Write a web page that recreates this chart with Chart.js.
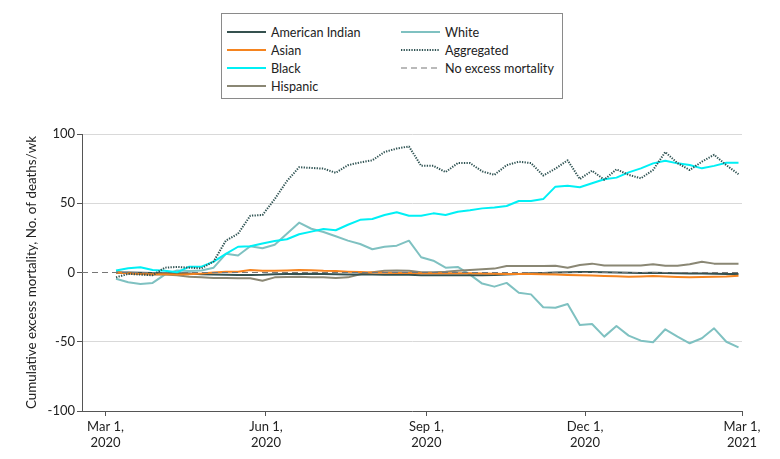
<!DOCTYPE html>
<html><head><meta charset="utf-8">
<script src="https://cdn.jsdelivr.net/npm/chart.js@4.4.1/dist/chart.umd.min.js"></script>
<style>
html,body{margin:0;padding:0;background:#fff;}
#wrap{position:relative;width:780px;height:459px;overflow:hidden;background:#fff;}
#c{position:absolute;left:0;top:0;}
#legend{position:absolute;left:221px;top:13px;width:342px;height:86px;box-sizing:border-box;border:1px solid #8a8a8a;background:#fff;}
.item{position:absolute;height:18px;display:flex;align-items:center;font-size:12.6px;color:#222;white-space:nowrap;}
.item svg{margin-right:5px;display:block;}
</style></head>
<body><div id="wrap"><canvas id="c" width="780" height="459"></canvas><div id="legend"></div></div>
<script>
const FONT = 'Lato, Roboto, "Liberation Sans", sans-serif';

// Week-ending dates (categories)
const weekDates = ["2020-03-07","2020-03-14","2020-03-21","2020-03-28","2020-04-04","2020-04-11","2020-04-18","2020-04-25",
"2020-05-02","2020-05-09","2020-05-16","2020-05-23","2020-05-30","2020-06-06","2020-06-13","2020-06-20","2020-06-27",
"2020-07-04","2020-07-11","2020-07-18","2020-07-25","2020-08-01","2020-08-08","2020-08-15","2020-08-22","2020-08-29",
"2020-09-05","2020-09-12","2020-09-19","2020-09-26","2020-10-03","2020-10-10","2020-10-17","2020-10-24","2020-10-31",
"2020-11-07","2020-11-14","2020-11-21","2020-11-28","2020-12-05","2020-12-12","2020-12-19","2020-12-26",
"2021-01-02","2021-01-09","2021-01-16","2021-01-23","2021-01-30","2021-02-06","2021-02-13","2021-02-20","2021-02-27"];

// Series values (cumulative excess deaths/wk)
const americanIndian = [0,0,-0.2,-0.3,-0.5,-0.6,-0.8,-1.2,-1.4,-1.6,-1.8,-1.8,-1.6,-1.2,-1,-1,-0.9,-1,-1.2,-1.4,-1.5,-1.5,-1.6,-1.6,-1.7,-1.9,-2,-2,-2,-2,-1.9,-1.8,-1.5,-1,-0.6,-0.3,0,0.2,0.4,0.3,0.2,0,-0.2,-0.3,-0.2,-0.3,-0.5,-0.7,-0.8,-0.9,-1,-1.1];
const asian = [0,-0.5,-1,-1.3,-1.3,-1.5,-1.2,-0.8,0,0.5,0.6,1.8,1.3,1.2,1.5,1.8,1.6,1.2,1,0.6,0.3,0,-0.2,-0.3,-0.3,-0.5,-0.5,-0.5,-0.6,-0.6,-0.8,-0.9,-1,-1,-1.1,-1.3,-1.5,-1.8,-2,-2.2,-2.5,-2.7,-3,-2.8,-2.5,-2.8,-3.2,-3.5,-3.2,-3,-2.8,-2.3];
const black = [1.5,3,3.8,1.8,1.3,0.1,4.2,4.2,7.8,13.4,18.6,19,21,22.7,24,27.6,29.5,31.4,30.5,34.5,38,38.6,41.5,43.5,41,41,42.7,41.5,43.9,45,46.3,47,48,51.6,51.6,53,62,62.7,61.5,64.4,67.3,68.5,72.3,75.2,78.8,80.7,78.8,77.6,75.2,77,79.3,79.3];
const hispanic = [0,-0.5,-1,-1.5,-1.5,-2,-3,-3.5,-4,-4,-4.2,-4.2,-5.9,-3.5,-3.2,-3,-3.5,-3.5,-4,-3.5,-1.3,0.1,1.3,1.5,1.3,0.1,0.1,0.6,1.3,1.8,2.3,2.8,4.7,4.7,4.7,4.7,4.9,3.5,5.4,6.4,5,5,5,5,5.9,4.9,4.9,5.9,7.8,6.4,6.4,6.4];
const white = [-4.5,-7.1,-8.3,-7.5,-1.5,1.5,1,1.5,3.5,13.5,12.3,19,17.5,20,28,36,31.6,29.2,26.2,23,20.6,16.8,18.6,19.4,23,11,8.5,3.5,4,-1.5,-8,-10.2,-7.5,-14.6,-15.8,-25.1,-25.4,-22.7,-37.9,-37.2,-46.3,-38.6,-45.6,-49.2,-50.4,-41,-46.3,-51.1,-47.5,-40.3,-50,-54];
const aggregated = [-3.5,-1,-1.5,-2,3.5,4,3.5,3,8,23,28,41,41.5,53,66,76,75.5,75,72,77.5,79.5,81,87,89.5,91,77,77,72.5,79,79,73,70.5,77.5,80,79,70,75,81,67.5,73.5,67,74.5,70.5,68,74,87,79,74,80,85,77.5,71];
const noExcess = [0,0];

// Axis ticks
const tickDates = ["2020-03-01","2020-06-01","2020-09-01","2020-12-01","2021-03-01"];
const tickLabels = [["Mar 1,","2020"],["Jun 1,","2020"],["Sep 1,","2020"],["Dec 1,","2020"],["Mar 1,","2021"]];
const yTicks = [-100,-50,0,50,100];

const ORIGIN = Date.UTC(2020,2,1);
function dayOf(s){const [y,m,d]=s.split('-').map(Number);return (Date.UTC(y,m-1,d)-ORIGIN)/86400000;}
const weekDays = weekDates.map(dayOf);
const tickDays = tickDates.map(dayOf);
const X_MIN = -13.5, X_MAX = tickDays[tickDays.length-1];

function pts(arr){return arr.map((v,i)=>({x:weekDays[i],y:v}));}

const series = [
  {label:'American Indian', data:americanIndian, color:'#35514f', dash:[], width:2, order:4},
  {label:'Asian', data:asian, color:'#f5841f', dash:[], width:2, order:3},
  {label:'Black', data:black, color:'#00f0f5', dash:[], width:2, order:1},
  {label:'Hispanic', data:hispanic, color:'#8a8774', dash:[], width:2, order:5},
  {label:'White', data:white, color:'#7fc1c1', dash:[], width:2, order:6},
  {label:'Aggregated', data:aggregated, color:'#2f5353', dash:[1.3,1.3], width:2, order:0},
  {label:'No excess mortality', data:noExcess, color:'#777', dash:[6,4], width:1.2, order:2, xs:[X_MIN,X_MAX]},
];

const datasets = series.map(s=>({
  label:s.label,
  data: s.xs ? s.data.map((v,i)=>({x:s.xs[i],y:v})) : pts(s.data),
  borderColor:s.color, backgroundColor:s.color, borderWidth:s.width, borderDash:s.dash,
  pointRadius:0, tension:0, fill:false, order:s.order, borderCapStyle:'butt', borderJoinStyle:'round'
}));

Chart.defaults.font.family = FONT;
Chart.defaults.font.size = 13;
Chart.defaults.color = '#222';

new Chart(document.getElementById('c'), {
  type:'line',
  data:{datasets},
  options:{
    responsive:false, animation:false, devicePixelRatio:1,
    layout:{padding:{left:0,top:134,right:38,bottom:0}},
    plugins:{legend:{display:false},tooltip:{enabled:false}},
    scales:{
      x:{type:'linear',min:X_MIN,max:X_MAX,
        afterBuildTicks:(sc)=>{sc.ticks=tickDays.map(v=>({value:v}));},
        afterFit:(sc)=>{sc.height=48;},
        ticks:{autoSkip:false,maxRotation:0,padding:3,color:'#222',font:{size:13}},
        grid:{drawOnChartArea:false,tickLength:5,tickColor:'#555',lineWidth:1},
        border:{display:true,color:'#555',width:1}
      },
      y:{type:'linear',min:-100,max:100,
        afterBuildTicks:(sc)=>{sc.ticks=yTicks.map(v=>({value:v}));},
        afterFit:(sc)=>{sc.width=82;},
        ticks:{padding:2,color:'#222',font:{size:13}},
        grid:{tickLength:5,tickColor:'#555',lineWidth:1,
          color:(c)=>{const v=c.tick&&c.tick.value;return (v===50||v===100||v===-50)?'#d9d9d9':'rgba(0,0,0,0)';}},
        border:{display:true,color:'#555',width:1},
        title:{display:true,text:'Cumulative excess mortality, No. of deaths/wk',color:'#222',font:{size:13.4},padding:{top:24,bottom:0}}
      }
    }
  }
});
// x tick labels from the tickLabels list
Chart.getChart('c').options.scales.x.ticks.callback = (v)=>{const i=tickDays.indexOf(v);return i>=0?tickLabels[i]:'';};
Chart.getChart('c').update('none');

// HTML legend
const lg = document.getElementById('legend');
const pos = [[5,9],[5,27],[5,45],[5,63],[179,9],[179,27],[179,45]];
series.forEach((s,i)=>{
  const d=document.createElement('div');d.className='item';d.style.fontFamily=FONT;
  d.style.left=pos[i][0]+'px';d.style.top=pos[i][1]+'px';
  const dash = s.dash.length? `stroke-dasharray="${s.dash.join(' ')}"`:'';
  d.innerHTML=`<svg width="39" height="4"><line x1="0" y1="2" x2="39" y2="2" stroke="${s.color}" stroke-width="${s.width}" ${dash}/></svg><span>${s.label}</span>`;
  lg.appendChild(d);
});
</script></body></html>
